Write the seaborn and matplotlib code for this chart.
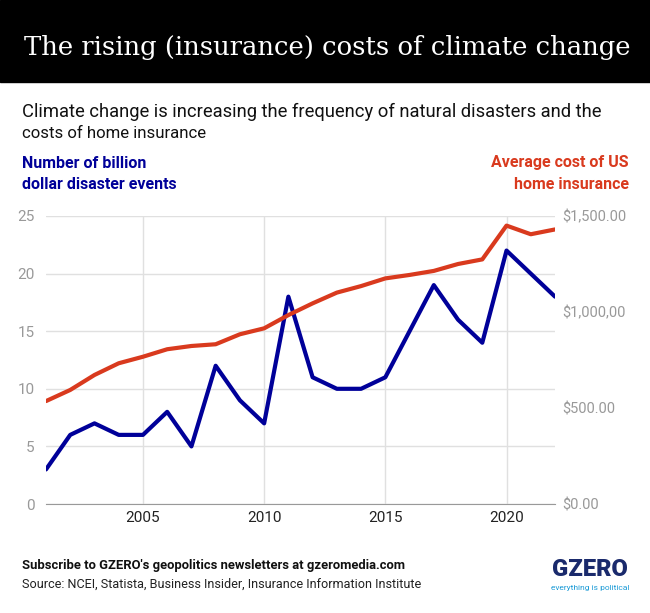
import matplotlib
matplotlib.use("Agg")
import matplotlib.pyplot as plt
import seaborn as sns
import pandas as pd

# data
years = list(range(2001, 2023))
disasters = [3, 6, 7, 6, 6, 8, 5, 12, 9, 7, 18, 11, 10, 10, 11, 15, 19, 16, 14, 22, 20, 18]
insurance = [536, 594, 672, 733, 767, 806, 823, 832, 884, 915, 984, 1045, 1101, 1135,
             1175, 1193, 1214, 1250, 1274, 1450, 1405, 1430]
left_ticks = [0, 5, 10, 15, 20, 25]
right_ticks = [0, 500, 1000, 1500]
right_labels = ["$0.00", "$500.00", "$1,000,00", "$1,500.00"]
x_ticks = [2005, 2010, 2015, 2020]

df = pd.DataFrame({"year": years, "disasters": disasters, "insurance": insurance})

BLUE = "#000099"
RED = "#d93a1e"
GRID = "#e0e0e0"
W, H = 650, 613

sns.set_style("white")
plt.rcParams["font.family"] = ["Roboto", "DejaVu Sans"]

fig = plt.figure(figsize=(6.5, 6.13), dpi=100)
renderer = fig.canvas.get_renderer()


def px_text(x, y, s, width=None, **kw):
    # place text in pixel coords from top-left, optionally shrink/grow to a pixel width
    t = fig.text(x / W, 1 - y / H, s, **kw)
    if width is not None:
        w = t.get_window_extent(renderer).width
        t.set_fontsize(t.get_fontsize() * width / w)
    return t


# header band
fig.patches.append(plt.Rectangle((0, 1 - 82 / H), 1, 82 / H, transform=fig.transFigure,
                                 color="black", zorder=0))
px_text(24, 48, "The rising (insurance) costs of climate change", width=606,
        color="white", fontsize=20, family="DejaVu Serif", va="center", ha="left")

px_text(22, 112, "Climate change is increasing the frequency of natural disasters and the",
        width=582, fontsize=13, color="#111111", va="center")
px_text(22, 134, "costs of home insurance", width=184, fontsize=13, color="#111111", va="center")

px_text(22, 163, "Number of billion", fontsize=11.5, fontweight="bold", color=BLUE, va="center")
px_text(22, 184, "dollar disaster events", width=155, fontsize=11.5, fontweight="bold",
        color=BLUE, va="center")
px_text(629, 163, "Average cost of US", fontsize=11.5, fontweight="bold", color=RED,
        va="center", ha="right")
px_text(629, 184, "home insurance", fontsize=11.5, fontweight="bold", color=RED,
        va="center", ha="right")

ax = fig.add_axes([46 / W, 1 - 504 / H, 509 / W, 288 / H])
ax2 = ax.twinx()

sns.lineplot(data=df, x="year", y="disasters", ax=ax, color=BLUE, linewidth=3, zorder=3)
sns.lineplot(data=df, x="year", y="insurance", ax=ax2, color=RED, linewidth=3, zorder=3)

ax.set_xlim(2001, 2022)
ax.set_ylim(0, 25)
ax2.set_ylim(0, 1500)
ax.set_yticks(left_ticks)
ax.set_xticks(x_ticks)
ax2.set_yticks(right_ticks)
ax2.set_yticklabels(right_labels)

ax.grid(True, color=GRID, linewidth=1)
ax2.grid(False)
ax.set_xlabel("")
ax.set_ylabel("")
ax2.set_ylabel("")

for a in (ax, ax2):
    for s in ("top", "left", "right", "bottom"):
        a.spines[s].set_visible(False)
ax.spines["bottom"].set_visible(True)
ax.spines["bottom"].set_color("#999999")

ax.tick_params(axis="y", length=0, labelsize=11, labelcolor="#999999", pad=8)
ax.tick_params(axis="x", length=0, labelsize=11, labelcolor="#222222", pad=5)
ax2.tick_params(axis="y", length=0, labelsize=10.5, labelcolor="#999999", pad=5)

# footer
px_text(22, 566, "Subscribe to GZERO's geopolitics newsletters at gzeromedia.com", width=383,
        fontsize=9, fontweight="bold", color="#111111", va="center")
px_text(22, 584, "Source: NCEI, Statista, Business Insider, Insurance Information Institute",
        width=402, fontsize=9, color="#222222", va="center")
px_text(590, 570, "GZERO", width=76, fontsize=17, fontweight="black", color="#1a2a6c",
        ha="center", va="center")
px_text(590, 588, "everything is political", width=78, fontsize=7, color="#1a9ad6",
        ha="center", va="center")

fig.savefig("out.png", dpi=100)
